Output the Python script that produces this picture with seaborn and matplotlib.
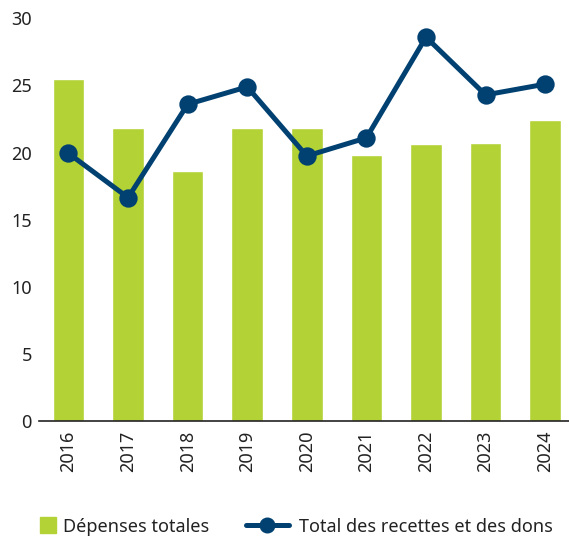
import pandas as pd
import numpy as np
import seaborn as sns
import matplotlib.pyplot as plt
from matplotlib.lines import Line2D

annees = ["2016", "2017", "2018", "2019", "2020", "2021", "2022", "2023", "2024"]
depenses = [25.5, 21.85, 18.65, 21.8, 21.85, 19.85, 20.65, 20.75, 22.4]
recettes = [19.95, 16.65, 23.6, 24.9, 19.75, 21.1, 28.6, 24.3, 25.1]

df = pd.DataFrame({"Année": annees, "Dépenses": depenses, "Recettes": recettes})

sns.set_theme(style="white")
plt.rcParams["font.family"] = ["Noto Sans", "DejaVu Sans"]

vert = "#b3d236"
bleu = "#004172"

fig, ax = plt.subplots(figsize=(5.69, 5.4), dpi=100)
fig.subplots_adjust(left=0.068, right=1.0, top=0.966, bottom=0.22)

sns.barplot(data=df, x="Année", y="Dépenses", color=vert, width=0.53,
            saturation=1, ax=ax)
sns.pointplot(data=df, x="Année", y="Recettes", color=bleu, linewidth=3.6,
              markers="o", markersize=10.5, ax=ax)

ax.set_ylim(0, 30)
ax.set_xlim(-0.5, 8.4)
ax.set_yticks([0, 5, 10, 15, 20, 25, 30])
ax.set_xlabel("")
ax.set_ylabel("")
ax.tick_params(axis="y", labelsize=13, length=0, colors="#222222", pad=5)
ax.tick_params(axis="x", labelsize=13, length=0, colors="#222222", pad=7,
               labelrotation=90)
sns.despine(ax=ax, left=True)
ax.spines["bottom"].set_color("#222222")
ax.spines["bottom"].set_linewidth(1.2)

h_dep = Line2D([0], [0], color=vert, marker="s", markersize=12, linestyle="none")
h_rec = Line2D([0], [0], color=bleu, linewidth=3.6, marker="o", markersize=10.5)

leg1 = fig.legend([h_dep], ["Dépenses totales"], loc="center left",
                  bbox_to_anchor=(0.068, 0.025), frameon=False, fontsize=13,
                  handlelength=1.0, handletextpad=0.35, borderpad=0,
                  borderaxespad=0, labelcolor="#222222")
leg2 = fig.legend([h_rec], ["Total des recettes et des dons"], loc="center left",
                  bbox_to_anchor=(0.432, 0.025), frameon=False, fontsize=13,
                  handlelength=2.4, handletextpad=0.55, borderpad=0,
                  borderaxespad=0, labelcolor="#222222")

fig.savefig("out.png", dpi=100)
